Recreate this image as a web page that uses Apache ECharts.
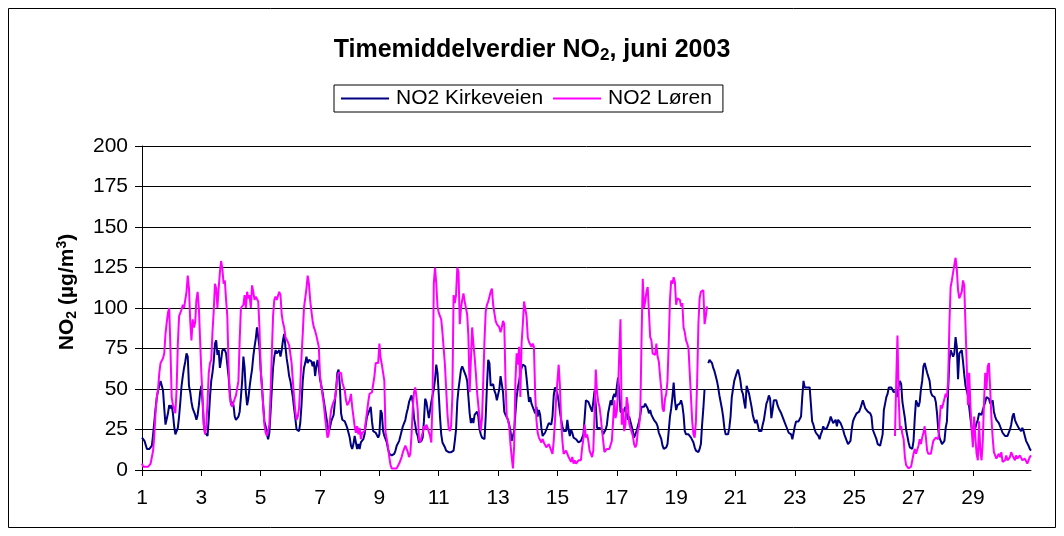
<!DOCTYPE html>
<html>
<head>
<meta charset="utf-8">
<script src="https://cdn.jsdelivr.net/npm/echarts@6/dist/echarts.min.js"></script>
<style>
  html, body { margin: 0; padding: 0; background: #fff; }
  #chart { width: 1064px; height: 536px; }
</style>
</head>
<body>
<div id="chart"></div>
<script>
// timemiddelverdier, 24 verdier per dag (1.-30. juni)
const kirkeveien = [
  20,19,18,17,13,13,13,13,15,22,30,38,45,49,52,55,56,49,38,28,27,35,40,38,
  40,35,27,22,22,26,33,42,52,58,63,67,72,70,52,48,42,38,37,34,31,34,40,48,
  52,42,28,23,22,21,32,45,55,60,67,78,80,71,74,63,68,74,75,74,72,65,58,48,
  40,42,40,33,31,31,33,36,45,55,70,63,48,40,44,51,57,62,70,76,81,88,88,76,
  62,52,40,30,27,22,19,23,36,50,63,70,74,72,73,74,70,74,80,84,76,69,64,58,
  55,50,45,38,32,25,24,24,29,40,55,63,66,70,66,68,69,67,64,67,58,64,68,63,
  56,52,48,43,38,33,28,24,26,30,32,34,42,50,60,62,52,35,31,30,30,28,26,23,
  20,15,13,16,21,17,13,16,13,17,17,19,22,28,33,35,37,39,30,24,24,23,24,20,
  22,37,35,24,21,19,17,13,10,9,9,9,10,12,15,16,18,21,24,27,29,31,35,38,
  42,44,46,42,32,28,23,21,17,16,18,20,30,44,42,37,32,33,42,46,50,56,65,60,
  47,33,22,17,16,14,12,12,11,11,11,11,12,18,25,42,50,56,62,64,62,61,58,55,
  45,35,29,32,29,34,33,36,33,25,22,20,19,19,33,52,68,66,52,53,53,49,47,43,
  42,50,58,57,48,36,34,33,31,28,24,18,17,24,35,45,51,55,60,63,65,66,64,57,
  49,42,45,41,39,37,35,39,33,37,34,26,21,21,23,25,27,29,30,28,33,46,51,52,
  47,42,36,31,27,24,23,24,31,25,21,25,23,20,19,19,18,17,16,18,19,22,32,43,
  44,42,40,39,36,42,49,40,26,26,26,26,25,22,22,25,28,35,39,43,40,45,47,45,
  51,57,48,36,36,35,34,39,35,31,33,30,27,24,20,20,24,27,30,34,39,40,39,41,
  42,38,35,37,34,34,31,30,29,27,23,21,19,15,13,13,14,16,24,33,38,45,54,43,
  37,40,40,41,43,40,34,24,22,23,22,22,20,19,17,14,12,12,11,13,16,28,38,50,
  null,null,66,68,69,66,63,61,58,55,51,46,42,38,33,26,22,21,22,26,33,45,50,55,
  55,60,62,59,55,49,47,42,38,52,52,47,43,39,34,31,29,31,28,24,25,24,28,31,
  36,41,43,46,44,32,37,43,42,43,40,38,37,35,33,31,29,27,25,23,22,22,19,23,
  27,30,31,30,30,33,45,55,51,50,51,50,51,50,30,28,25,23,24,21,19,22,24,27,
  25,24,26,27,30,33,31,29,30,31,27,31,30,29,27,25,22,20,19,16,16,18,25,30,
  32,33,35,35,36,38,39,43,42,38,38,36,37,35,33,25,23,22,19,16,15,15,16,22,
  37,41,45,47,51,52,51,50,48,47,49,45,52,55,53,42,37,32,25,21,17,14,13,13,
  18,32,43,41,39,42,50,55,64,66,63,60,60,55,48,46,46,45,42,35,25,20,18,16,
  15,18,26,30,50,68,74,73,70,72,82,76,56,72,72,74,67,59,52,49,46,39,32,26,
  23,24,26,29,31,35,35,34,37,36,42,45,45,44,41,41,43,36,33,31,30,29,27,25,
  23,22,21,20,21,22,25,28,33,35,31,29,30,26,25,24,26,24,21,18,17,15,13,12
];

const loren = [
  4,2,2,2,2,2,3,4,5,12,22,36,45,50,60,66,67,69,72,84,91,97,100,75,
  45,40,38,35,50,78,95,97,99,102,100,99,110,120,112,92,80,93,88,91,105,110,100,80,
  60,45,28,22,28,42,60,66,68,85,98,115,112,100,112,122,129,124,115,117,105,95,65,45,
  41,39,40,44,46,47,55,80,100,101,102,108,100,110,106,108,100,114,110,105,107,108,104,88,
  62,51,40,28,23,21,22,28,48,72,95,105,107,105,106,110,108,96,91,88,82,81,79,77,
  76,66,55,45,36,31,33,38,52,70,84,100,100,112,120,115,105,98,92,88,86,83,82,76,
  58,52,46,41,33,26,20,22,31,37,40,41,44,50,57,60,61,60,54,53,49,43,40,39,
  43,47,39,33,27,23,27,22,26,19,23,24,24,30,36,42,47,47,48,49,58,66,65,66,
  78,69,65,66,55,23,19,14,8,3,1,1,1,2,1,2,4,6,8,11,13,15,13,11,
  8,10,22,38,48,51,45,37,19,17,20,23,27,25,28,26,27,21,17,45,115,125,115,101,
  97,98,93,85,75,65,50,35,26,24,27,45,108,103,108,125,122,90,100,105,109,104,103,96,
  82,48,68,88,78,70,60,48,40,32,24,32,55,80,98,102,104,107,110,112,102,97,92,90,
  90,88,85,88,92,90,55,33,31,27,16,8,1,15,55,72,65,76,45,78,90,104,103,95,
  82,79,78,76,78,76,47,31,23,20,19,17,19,17,16,14,15,16,14,12,10,18,30,45,
  55,65,52,30,18,10,11,12,13,8,7,5,8,4,6,4,5,6,5,6,14,19,28,20,
  22,18,12,10,8,12,35,62,48,42,39,33,25,18,11,12,13,12,13,13,18,30,43,32,
  36,48,72,93,28,38,24,28,45,40,29,26,25,21,16,14,16,24,27,34,80,118,100,104,
  110,113,112,82,80,72,72,71,78,70,67,58,50,38,36,44,47,55,78,105,117,115,119,116,
  102,106,107,105,101,103,88,85,80,78,75,60,45,30,22,20,30,55,90,106,110,111,111,90,
  95,101,null,null,null,null,null,null,null,null,null,null,null,null,null,null,null,null,null,null,null,null,null,null,
  null,null,null,null,null,null,null,null,null,null,null,null,null,null,null,null,null,null,null,null,null,null,null,null,
  null,null,null,null,null,null,null,null,null,null,null,null,null,null,null,null,null,null,null,null,null,null,null,null,
  null,null,null,null,null,null,null,null,null,null,null,null,null,null,null,null,null,null,null,null,null,null,null,null,
  null,null,null,null,null,null,null,null,null,null,null,null,null,null,null,null,null,null,null,null,null,null,null,null,
  null,null,null,null,null,null,null,null,null,null,null,null,null,null,null,null,null,null,null,null,null,null,null,null,
  null,null,null,null,null,null,null,null,null,21,55,83,45,25,27,22,19,8,3,2,1,1,2,3,
  10,13,10,10,15,19,16,20,23,27,20,12,10,11,10,14,18,19,20,20,19,19,40,38,
  38,44,47,45,55,90,113,117,122,123,131,124,111,106,105,110,117,114,90,65,40,60,40,25,
  14,33,20,10,6,30,12,6,18,42,60,50,64,66,50,32,20,11,12,7,7,10,8,11,
  5,5,6,9,6,6,8,11,9,8,6,9,7,8,9,8,6,5,7,6,4,6,8,9
];

// timeindeks 0..719, etikett = dag i måneden
const timer = kirkeveien.map((_, i) => String(i));
const dagEtikett = (v) => String(Number(v) / 24 + 1);

const yMin = 0;
const yMax = 200;
const yStep = 25;

const font = "'Liberation Sans', Arial, sans-serif";

const chart = echarts.init(document.getElementById('chart'));

const option = {
  animation: false,
  backgroundColor: '#fff',
  title: {
    text: '{t|Timemiddelverdier NO}{s|2}{t|, juni 2003}',
    left: 'center',
    top: 31,
    textStyle: {
      rich: {
        t: { fontFamily: font, fontSize: 25, fontWeight: 'bold', color: '#000', lineHeight: 28 },
        s: { fontFamily: font, fontSize: 17, fontWeight: 'bold', color: '#000', lineHeight: 14, verticalAlign: 'bottom' }
      }
    }
  },
  legend: {
    top: 85,
    left: 334,
    icon: 'rect',
    itemWidth: 48,
    itemHeight: 2,
    itemGap: 10,
    padding: [3, 11, 3, 7],
    borderColor: '#000',
    borderWidth: 1,
    textStyle: { fontFamily: font, fontSize: 21, color: '#000', padding: [0, 0, 0, 2] },
    data: ['NO2 Kirkeveien', 'NO2 Løren']
  },
  grid: { left: 142, right: 33, top: 146, bottom: 66 },
  xAxis: {
    type: 'category',
    data: timer,
    boundaryGap: false,
    axisLine: { lineStyle: { color: '#000', width: 1 } },
    axisTick: {
      show: true,
      length: 6,
      interval: (i) => i % 48 === 0,
      lineStyle: { color: '#000' }
    },
    axisLabel: {
      interval: (i) => i % 48 === 0,
      formatter: dagEtikett,
      fontFamily: font,
      fontSize: 21,
      color: '#000',
      margin: 18
    },
    splitLine: { show: false }
  },
  yAxis: {
    type: 'value',
    min: yMin,
    max: yMax,
    interval: yStep,
    axisLine: { show: true, lineStyle: { color: '#000', width: 1 } },
    axisTick: { show: true, length: 7, lineStyle: { color: '#000' } },
    axisLabel: { fontFamily: font, fontSize: 21, color: '#000', margin: 14 },
    splitLine: { show: true, lineStyle: { color: '#000', width: 1 } }
  },
  graphic: [
    {
      type: 'rect',
      shape: { x: 8.5, y: 8.5, width: 1047, height: 519 },
      style: { fill: 'none', stroke: '#000', lineWidth: 1 },
      silent: true
    },
    {
      type: 'text',
      x: 67,
      y: 292,
      rotation: Math.PI / 2,
      style: {
        text: '{b|NO}{s|2}{b| (µg/m}{p|3}{b|)}',
        align: 'center',
        verticalAlign: 'middle',
        rich: {
          b: { fontFamily: font, fontSize: 21, fontWeight: 'bold', fill: '#000', lineHeight: 24 },
          s: { fontFamily: font, fontSize: 14, fontWeight: 'bold', fill: '#000', lineHeight: 12, verticalAlign: 'bottom' },
          p: { fontFamily: font, fontSize: 14, fontWeight: 'bold', fill: '#000', lineHeight: 12, verticalAlign: 'top' }
        }
      },
      silent: true
    }
  ],
  series: [
    {
      name: 'NO2 Kirkeveien',
      type: 'line',
      data: kirkeveien,
      symbol: 'none',
      connectNulls: false,
      color: '#000080',
      lineStyle: { width: 2, color: '#000080' }
    },
    {
      name: 'NO2 Løren',
      type: 'line',
      data: loren,
      symbol: 'none',
      connectNulls: false,
      color: '#FF00FF',
      lineStyle: { width: 2, color: '#FF00FF' }
    }
  ]
};

chart.setOption(option);
</script>
</body>
</html>
